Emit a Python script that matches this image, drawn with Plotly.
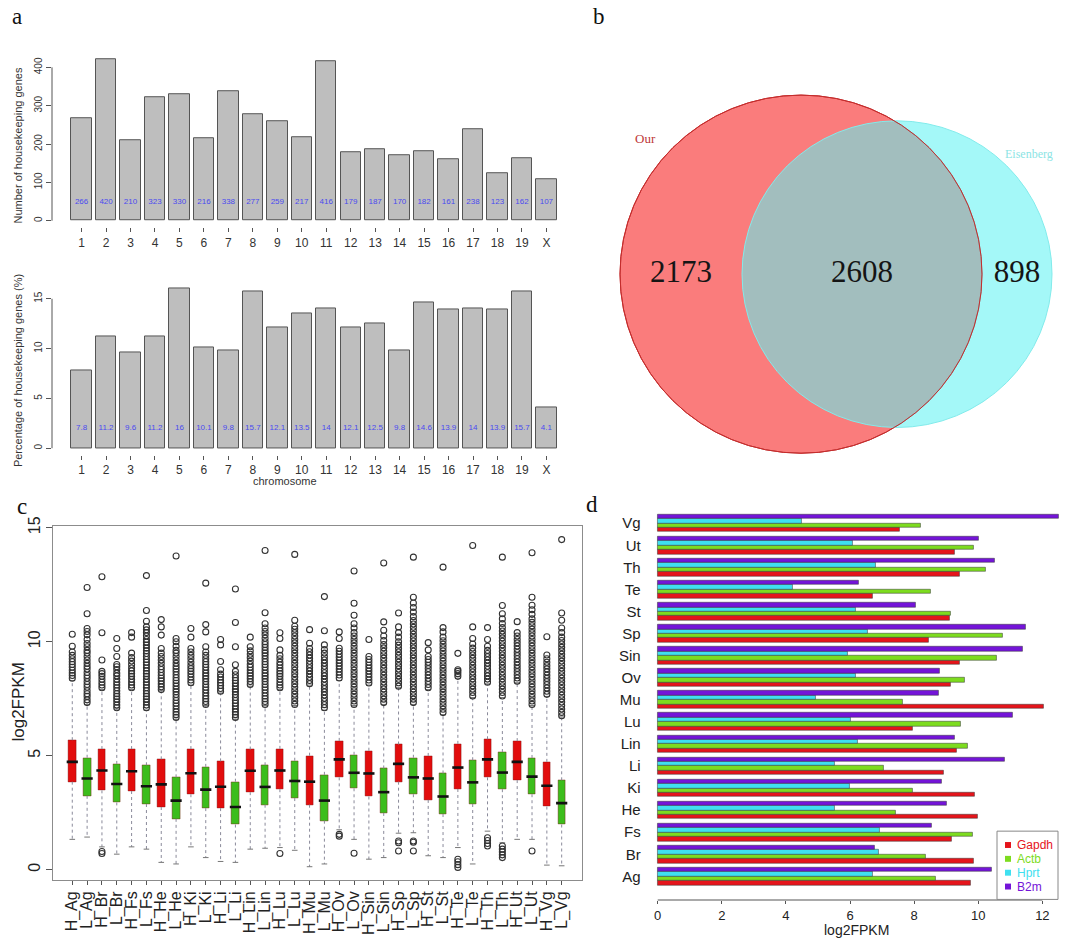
import math
import plotly.graph_objects as go

W, H = 1068, 938
SANS = "Liberation Sans, Arial, sans-serif"
SERIF = "Liberation Serif, Times New Roman, serif"

# ---------------- data: panel a ----------------
chromosomes = ["1", "2", "3", "4", "5", "6", "7", "8", "9", "10",
               "11", "12", "13", "14", "15", "16", "17", "18", "19", "X"]
hk_counts = [266, 420, 210, 323, 330, 216, 338, 277, 259, 217,
             416, 179, 187, 170, 182, 161, 238, 123, 162, 107]
hk_percent = [7.8, 11.2, 9.6, 11.2, 16, 10.1, 9.8, 15.7, 12.1, 13.5,
              14, 12.1, 12.5, 9.8, 14.6, 13.9, 14, 13.9, 15.7, 4.1]

# ---------------- data: panel b ----------------
venn_sets = ["Our", "Eisenberg"]
venn_only_our = 2173
venn_both = 2608
venn_only_eis = 898

# ---------------- data: panel c ----------------
box_names = ["H_Ag", "L_Ag", "H_Br", "L_Br", "H_Fs", "L_Fs", "H_He", "L_He",
             "H_Ki", "L_Ki", "H_Li", "L_Li", "H_Lin", "L_Lin", "H_Lu", "L_Lu",
             "H_Mu", "L_Mu", "H_Ov", "L_Ov", "H_Sin", "L_Sin", "H_Sp", "L_Sp",
             "H_St", "L_St", "H_Te", "L_Te", "H_Th", "L_Th", "H_Ut", "L_Ut",
             "H_Vg", "L_Vg"]
box_q1 = [3.86, 3.24, 3.48, 2.95, 3.45, 2.88, 2.75, 2.23, 3.31, 2.70, 2.70, 1.98,
          3.40, 2.85, 3.53, 3.14, 2.85, 2.15, 4.05, 3.57, 3.21, 2.49, 3.86, 3.31,
          3.06, 2.44, 3.54, 2.88, 4.05, 3.53, 3.93, 3.31, 2.77, 1.98]
box_median = [4.73, 4.00, 4.35, 3.76, 4.32, 3.66, 3.74, 3.03, 4.23, 3.51, 3.64, 2.75,
              4.34, 3.63, 4.35, 3.89, 3.86, 3.03, 4.84, 4.25, 4.22, 3.40, 4.64, 4.05,
              4.00, 3.21, 4.48, 3.83, 4.84, 4.26, 4.73, 4.08, 3.68, 2.92]
box_q3 = [5.68, 4.91, 5.29, 4.64, 5.29, 4.58, 4.84, 4.05, 5.29, 4.51, 4.75, 3.86,
          5.27, 4.58, 5.30, 4.78, 5.00, 4.16, 5.65, 5.04, 5.22, 4.44, 5.49, 4.91,
          4.99, 4.22, 5.52, 4.80, 5.72, 5.16, 5.64, 4.90, 4.73, 3.92]
box_low = [1.33, 1.43, 1.00, 0.68, 1.00, 0.90, 0.32, 0.25, 1.00, 0.53, 0.36, 0.32,
           0.90, 0.94, 0.97, 0.85, 0.13, 0.25, 1.75, 1.33, 0.46, 0.53, 1.60, 1.62,
           0.61, 0.53, 0.97, 0.25, 1.69, 1.18, 1.33, 1.33, 0.20, 0.17]
box_high = [8.3, 7.25, 7.9, 7.05, 7.9, 7.0, 7.85, 6.6, 8.1, 7.2, 7.75, 6.6,
            8.05, 7.2, 7.9, 7.2, 8.1, 7.0, 8.3, 7.2, 8.1, 7.25, 8.0, 7.25,
            7.9, 6.8, 8.4, 7.55, 8.15, 7.55, 8.2, 7.2, 7.6, 6.7]
box_outliers = [
    [8.4, 8.52, 8.63, 8.75, 8.88, 9.0, 9.12, 9.25, 9.4, 9.55, 9.8, 10.33],
    [7.33, 7.45, 7.6, 7.72, 7.85, 8.0, 8.12, 8.25, 8.4, 8.52, 8.65, 8.8, 8.92, 9.05, 9.2, 9.35,
     9.5, 9.62, 9.78, 9.92, 10.1, 10.3, 10.45, 10.58, 11.23, 12.38],
    [0.71, 0.8, 7.98, 8.1, 8.22, 8.35, 8.48, 8.6, 8.7, 9.2, 10.39, 12.85],
    [7.1, 7.22, 7.35, 7.48, 7.6, 7.72, 7.85, 7.98, 8.1, 8.22, 8.35, 8.5, 8.62, 8.78, 8.9, 9.0,
     9.35, 9.7, 10.14],
    [7.98, 8.1, 8.22, 8.35, 8.48, 8.6, 8.72, 8.85, 9.0, 9.15, 9.3, 9.5, 10.2, 10.4],
    [7.1, 7.22, 7.35, 7.48, 7.6, 7.72, 7.85, 7.98, 8.1, 8.22, 8.35, 8.48, 8.6, 8.72, 8.85, 8.98,
     9.1, 9.22, 9.35, 9.48, 9.6, 9.72, 9.85, 9.98, 10.1, 10.25, 10.4, 10.52, 10.65, 10.9, 11.37, 12.9],
    [7.9, 8.02, 8.15, 8.28, 8.4, 8.52, 8.65, 8.78, 8.9, 9.05, 9.2, 9.35, 9.5, 9.7, 10.29, 10.65, 10.97],
    [6.68, 6.8, 6.92, 7.05, 7.18, 7.3, 7.42, 7.55, 7.68, 7.8, 7.92, 8.05, 8.18, 8.3, 8.42, 8.55,
     8.68, 8.8, 8.92, 9.05, 9.2, 9.35, 9.5, 9.62, 9.8, 10.0, 10.14, 13.76],
    [8.2, 8.32, 8.45, 8.58, 8.7, 8.82, 8.95, 9.1, 9.25, 9.4, 9.55, 9.7, 10.2, 10.58],
    [7.25, 7.38, 7.5, 7.62, 7.75, 7.88, 8.0, 8.12, 8.25, 8.38, 8.5, 8.62, 8.75, 8.88, 9.0, 9.12,
     9.25, 9.4, 9.55, 9.78, 10.43, 10.75, 12.57],
    [7.83, 7.95, 8.08, 8.2, 8.32, 8.45, 8.58, 8.77, 9.13, 9.86, 10.1],
    [6.68, 6.8, 6.92, 7.05, 7.18, 7.3, 7.42, 7.55, 7.68, 7.8, 7.92, 8.05, 8.18, 8.3, 8.42, 8.55,
     8.7, 8.99, 9.78, 10.84, 12.31],
    [8.12, 8.25, 8.38, 8.5, 8.62, 8.75, 8.88, 9.0, 9.15, 9.3, 9.45, 9.6, 9.78, 10.2],
    [7.25, 7.38, 7.5, 7.62, 7.75, 7.88, 8.0, 8.12, 8.25, 8.38, 8.5, 8.62, 8.75, 8.88, 9.0, 9.12,
     9.25, 9.38, 9.5, 9.62, 9.75, 9.88, 10.0, 10.15, 10.3, 10.45, 10.6, 10.79, 11.27, 14.0],
    [0.71, 7.98, 8.1, 8.22, 8.35, 8.48, 8.6, 8.72, 8.85, 8.98, 9.1, 9.25, 9.4, 9.64, 10.14, 10.39],
    [7.25, 7.4, 7.55, 7.7, 7.85, 8.0, 8.15, 8.3, 8.45, 8.6, 8.75, 8.9, 9.05, 9.2, 9.35, 9.5,
     9.65, 9.8, 9.95, 10.1, 10.25, 10.4, 10.55, 10.68, 10.94, 13.83],
    [8.16, 8.3, 8.44, 8.58, 8.72, 8.86, 9.0, 9.14, 9.28, 9.42, 9.56, 9.7, 9.93, 10.53],
    [7.1, 7.24, 7.38, 7.52, 7.66, 7.8, 7.94, 8.08, 8.22, 8.36, 8.5, 8.64, 8.78, 8.92, 9.06, 9.2,
     9.34, 9.5, 9.66, 9.86, 10.48, 11.98],
    [1.47, 1.55, 8.41, 8.54, 8.67, 8.8, 8.93, 9.06, 9.19, 9.32, 9.45, 9.58, 9.71, 10.14, 10.43],
    [0.72, 7.25, 7.4, 7.55, 7.7, 7.85, 8.0, 8.15, 8.3, 8.45, 8.6, 8.75, 8.9, 9.05, 9.2, 9.35, 9.5,
     9.65, 9.8, 9.95, 10.1, 10.25, 10.4, 10.6, 10.79, 11.16, 11.69, 13.1],
    [8.19, 8.32, 8.45, 8.58, 8.71, 8.84, 8.97, 9.1, 9.22, 9.35, 10.1],
    [7.33, 7.48, 7.63, 7.78, 7.93, 8.08, 8.23, 8.38, 8.53, 8.68, 8.83, 8.98, 9.13, 9.28, 9.43,
     9.58, 9.73, 9.88, 10.05, 10.25, 10.5, 10.87, 13.45],
    [0.82, 1.18, 1.26, 8.05, 8.2, 8.35, 8.5, 8.65, 8.8, 8.95, 9.1, 9.25, 9.4, 9.55, 9.7, 9.85,
     10.0, 10.2, 10.4, 10.65, 11.26],
    [0.82, 1.2, 1.26, 7.33, 7.48, 7.63, 7.78, 7.93, 8.08, 8.23, 8.38, 8.53, 8.68, 8.83, 8.98,
     9.13, 9.28, 9.43, 9.58, 9.73, 9.88, 10.03, 10.18, 10.33, 10.48, 10.63, 10.78, 10.93, 11.1,
     11.3, 11.5, 11.7, 11.95, 13.71],
    [7.98, 8.12, 8.26, 8.4, 8.54, 8.68, 8.82, 8.96, 9.1, 9.22, 9.35, 9.64, 9.96],
    [6.89, 7.04, 7.19, 7.34, 7.49, 7.64, 7.79, 7.94, 8.09, 8.24, 8.39, 8.54, 8.69, 8.84, 8.99,
     9.14, 9.29, 9.44, 9.59, 9.74, 9.89, 10.04, 10.2, 10.43, 10.62, 13.27],
    [0.1, 0.22, 0.35, 0.46, 8.48, 8.6, 8.7, 8.77, 9.49],
    [7.62, 7.77, 7.92, 8.07, 8.22, 8.37, 8.52, 8.67, 8.82, 8.97, 9.12, 9.27, 9.42, 9.57, 9.72,
     9.9, 10.14, 10.65, 14.22],
    [1.04, 1.15, 1.28, 1.4, 8.22, 8.36, 8.5, 8.64, 8.78, 8.92, 9.06, 9.2, 9.34, 9.48, 9.62, 9.8,
     10.1, 10.62],
    [0.53, 0.65, 0.78, 0.9, 1.04, 7.62, 7.77, 7.92, 8.07, 8.22, 8.37, 8.52, 8.67, 8.82, 8.97,
     9.12, 9.27, 9.42, 9.57, 9.72, 9.87, 10.02, 10.17, 10.32, 10.47, 10.62, 10.8, 11.0, 11.23,
     11.59, 13.71],
    [8.27, 8.41, 8.55, 8.69, 8.83, 8.97, 9.11, 9.25, 9.39, 9.53, 9.67, 9.81, 9.95, 10.1, 10.25,
     10.4, 10.88],
    [0.82, 7.25, 7.4, 7.55, 7.7, 7.85, 8.0, 8.15, 8.3, 8.45, 8.6, 8.75, 8.9, 9.05, 9.2, 9.35,
     9.5, 9.65, 9.8, 9.95, 10.1, 10.25, 10.4, 10.55, 10.7, 10.85, 11.0, 11.2, 11.4, 11.6, 11.95,
     13.9],
    [7.69, 7.83, 7.97, 8.11, 8.25, 8.39, 8.53, 8.67, 8.81, 8.95, 9.1, 9.25, 9.42, 10.22],
    [6.75, 6.9, 7.05, 7.2, 7.35, 7.5, 7.65, 7.8, 7.95, 8.1, 8.25, 8.4, 8.55, 8.7, 8.85, 9.0,
     9.15, 9.3, 9.45, 9.6, 9.75, 9.9, 10.05, 10.2, 10.4, 10.6, 10.94, 11.26, 14.48],
]

# ---------------- data: panel d ----------------
tissues = ["Ag", "Br", "Fs", "He", "Ki", "Li", "Lin", "Lu", "Mu",
           "Ov", "Sin", "Sp", "St", "Te", "Th", "Ut", "Vg"]
genes = ["Gapdh", "Actb", "Hprt", "B2m"]
gapdh = [9.77, 9.87, 9.16, 9.98, 9.90, 8.91, 9.34, 7.95, 12.03,
         9.13, 9.42, 8.44, 9.12, 6.70, 9.43, 9.28, 7.56]
actb = [8.66, 8.37, 9.82, 7.43, 7.94, 7.04, 9.67, 9.46, 7.65,
        9.57, 10.59, 10.76, 9.15, 8.52, 10.23, 9.85, 8.21]
hprt = [6.71, 6.88, 6.94, 5.53, 6.00, 5.53, 6.24, 6.03, 4.94,
        6.18, 5.93, 6.54, 6.18, 4.20, 6.80, 6.07, 4.49]
b2m = [10.42, 6.78, 8.55, 9.00, 8.87, 10.81, 9.25, 11.07, 8.77,
       8.81, 11.38, 11.49, 8.05, 6.27, 10.50, 10.01, 12.50]
gene_values = [gapdh, actb, hprt, b2m]
gene_colors = ["#e5141b", "#7ddc1f", "#3fe0f0", "#7414d8"]


# ---------------- helpers ----------------
def dx(p0, p1):
    return [p0 / W, p1 / W]


def dy(top, bottom):
    return [1 - bottom / H, 1 - top / H]


def px(x):
    return x / W


def py(y):
    return 1 - y / H


fig = go.Figure()

# ---------------- panel a ----------------
bar_x = [0.7 + 1.2 * i for i in range(len(chromosomes))]
for vals, xa, ya, ylab in [(hk_counts, "x", "y", 50), (hk_percent, "x2", "y2", 2)]:
    fig.add_trace(go.Bar(x=bar_x, y=vals, width=1.0, xaxis=xa, yaxis=ya,
                         marker=dict(color="#bebebe", line=dict(color="#555555", width=1)),
                         showlegend=False, hoverinfo="skip"))
    fig.add_trace(go.Scatter(x=bar_x, y=[ylab] * len(vals), text=[str(v) for v in vals],
                             mode="text", xaxis=xa, yaxis=ya,
                             textfont=dict(family=SANS, size=8, color="#4a4af0"),
                             showlegend=False, hoverinfo="skip"))

# ---------------- panel b (Venn) ----------------
def lens_area(r1, r2, d):
    if d >= r1 + r2:
        return 0.0
    if d <= abs(r1 - r2):
        return math.pi * min(r1, r2) ** 2
    a1 = r1 * r1 * math.acos((d * d + r1 * r1 - r2 * r2) / (2 * d * r1))
    a2 = r2 * r2 * math.acos((d * d + r2 * r2 - r1 * r1) / (2 * d * r2))
    k = 0.5 * math.sqrt((-d + r1 + r2) * (d + r1 - r2) * (d - r1 + r2) * (d + r1 + r2))
    return a1 + a2 - k


n_our = venn_only_our + venn_both
n_eis = venn_only_eis + venn_both
R_OUR = 181.0
r_our = R_OUR
r_eis = R_OUR * math.sqrt(n_eis / n_our)
target = venn_both / n_our * math.pi * r_our ** 2
lo_d, hi_d = abs(r_our - r_eis) + 1e-6, r_our + r_eis
for _ in range(80):
    mid = 0.5 * (lo_d + hi_d)
    if lens_area(r_our, r_eis, mid) > target:
        lo_d = mid
    else:
        hi_d = mid
dist = 0.5 * (lo_d + hi_d)
cx_our, cy = 801.0, 267.0
cx_eis = cx_our + dist

venn_shapes = [
    dict(type="circle", xref="x3", yref="y3", x0=cx_our - r_our, x1=cx_our + r_our,
         y0=cy - r_our, y1=cy + r_our, fillcolor="rgb(250,124,124)",
         line=dict(color="rgb(196,45,45)", width=1), layer="below"),
    dict(type="circle", xref="x3", yref="y3", x0=cx_eis - r_eis, x1=cx_eis + r_eis,
         y0=cy - r_eis, y1=cy + r_eis, fillcolor="rgba(92,242,242,0.56)",
         line=dict(color="rgb(130,235,235)", width=1), layer="below"),
    dict(type="circle", xref="x3", yref="y3", x0=cx_our - r_our, x1=cx_our + r_our,
         y0=cy - r_our, y1=cy + r_our, fillcolor="rgba(0,0,0,0)",
         line=dict(color="rgb(196,45,45)", width=1), layer="below"),
]
venn_x = [((cx_our - r_our) + (cx_eis - r_eis)) / 2,
          ((cx_eis - r_eis) + (cx_our + r_our)) / 2,
          ((cx_our + r_our) + (cx_eis + r_eis)) / 2]
fig.add_trace(go.Scatter(x=venn_x, y=[cy] * 3,
                         text=[str(venn_only_our), str(venn_both), str(venn_only_eis)],
                         mode="text", xaxis="x3", yaxis="y3",
                         textfont=dict(family=SERIF, size=31, color="#151515"),
                         showlegend=False, hoverinfo="skip"))

# ---------------- panel c (boxplots) ----------------
box_pos = list(range(1, len(box_names) + 1))
box_colors = ["#e20d0d" if n.startswith("H_") else "#3cbd1c" for n in box_names]

wx, wy = [], []
for p, q1, q3, lo, hi in zip(box_pos, box_q1, box_q3, box_low, box_high):
    wx += [p, p, None, p, p, None]
    wy += [q1, lo, None, q3, hi, None]
fig.add_trace(go.Scatter(x=wx, y=wy, mode="lines", xaxis="x4", yaxis="y4",
                         line=dict(color="#8a8a9a", width=1, dash="dot"),
                         showlegend=False, hoverinfo="skip"))
fig.add_trace(go.Scatter(x=box_pos + box_pos, y=box_low + box_high, mode="markers",
                         xaxis="x4", yaxis="y4",
                         marker=dict(symbol="line-ew", size=4, line=dict(color="#777", width=1)),
                         showlegend=False, hoverinfo="skip"))
fig.add_trace(go.Bar(x=box_pos, y=[b - a for a, b in zip(box_q1, box_q3)], base=box_q1,
                     width=0.5, xaxis="x4", yaxis="y4",
                     marker=dict(color=box_colors, line=dict(color="#7a1010", width=0.4)),
                     showlegend=False, hoverinfo="skip"))
fig.add_trace(go.Scatter(x=box_pos, y=box_median, mode="markers", xaxis="x4", yaxis="y4",
                         marker=dict(symbol="line-ew", size=8, line=dict(color="#111", width=2.6)),
                         showlegend=False, hoverinfo="skip"))
ox, oy = [], []
for p, outs in zip(box_pos, box_outliers):
    ox += [p] * len(outs)
    oy += outs
fig.add_trace(go.Scatter(x=ox, y=oy, mode="markers", xaxis="x4", yaxis="y4",
                         marker=dict(symbol="circle-open", size=6, color="#333333",
                                     line=dict(width=1.1)),
                         showlegend=False, hoverinfo="skip"))

# ---------------- panel d (horizontal bars) ----------------
group_centers = [5 * i + 3 for i in range(len(tissues))]
for j, (gname, vals, col) in enumerate(zip(genes, gene_values, gene_colors)):
    fig.add_trace(go.Bar(y=[5 * i + 1.5 + j for i in range(len(tissues))], x=vals,
                         orientation="h", width=1.0, xaxis="x5", yaxis="y5",
                         marker=dict(color=col, line=dict(color="#333", width=0.5)),
                         name=gname, showlegend=False, hoverinfo="skip"))

# ---------------- layout ----------------
tick_common = dict(showgrid=False, zeroline=False, ticks="outside", tickcolor="#555")

layout = dict(
    width=W, height=H, autosize=False,
    margin=dict(l=0, r=0, t=0, b=0),
    paper_bgcolor="white", plot_bgcolor="rgba(0,0,0,0)",
    barmode="overlay", bargap=0,
    font=dict(family=SANS, color="#222"),
    xaxis=dict(domain=dx(52, 576), range=[-0.752, 24.952], anchor="y",
               tickvals=bar_x, ticktext=chromosomes, ticklen=4, showline=False,
               tickfont=dict(size=12, color="#333"), **tick_common),
    yaxis=dict(domain=dy(43.7, 219.5), range=[-16.8, 436.8], anchor="x",
               tickvals=[0, 100, 200, 300, 400], tickangle=-90, ticklen=5, showline=False,
               tickfont=dict(size=10, color="#333"), **tick_common),
    xaxis2=dict(domain=dx(52, 576), range=[-0.752, 24.952], anchor="y2",
                tickvals=bar_x, ticktext=chromosomes, ticklen=4, showline=False,
                tickfont=dict(size=12, color="#333"), **tick_common),
    yaxis2=dict(domain=dy(275.4, 449.4), range=[-0.64, 16.64], anchor="x2",
                tickvals=[0, 5, 10, 15], tickangle=-90, ticklen=5, showline=False,
                tickfont=dict(size=10, color="#333"), **tick_common),
    xaxis3=dict(domain=dx(590, 1068), range=[590, 1068], anchor="y3", visible=False,
                fixedrange=True),
    yaxis3=dict(domain=dy(60, 480), range=[480, 60], anchor="x3", visible=False,
                fixedrange=True),
    xaxis4=dict(domain=dx(53.3, 581.7), range=[-0.28, 35.35], anchor="y4",
                tickvals=box_pos, ticktext=box_names, tickangle=-90, ticklen=4,
                showline=True, mirror=True, linecolor="#8c8c8c",
                tickfont=dict(size=16, color="#222"), **tick_common),
    yaxis4=dict(domain=dy(521.7, 879.3), range=[-0.45, 15.07], anchor="x4",
                tickvals=[0, 5, 10, 15], tickangle=-90, ticklen=6,
                showline=True, mirror=True, linecolor="#8c8c8c",
                tickfont=dict(size=16, color="#222"), **tick_common),
    xaxis5=dict(domain=dx(641.7, 1068), range=[-0.5, 12.8], anchor="y5",
                tickvals=[0, 2, 4, 6, 8, 10, 12], ticklen=3, showline=False,
                tickfont=dict(size=13, color="#222"), **tick_common),
    yaxis5=dict(domain=dy(494.8, 899.6), range=[-2.36, 88.36], anchor="x5",
                tickvals=group_centers, ticktext=tissues, ticks="", showline=False,
                showgrid=False, zeroline=False, tickfont=dict(size=15, color="#222")),
    showlegend=False,
)

shapes = list(venn_shapes)
shapes += [
    dict(type="line", xref="x domain", yref="y", x0=0, x1=0, y0=0, y1=400,
         line=dict(color="#555", width=1)),
    dict(type="line", xref="x2 domain", yref="y2", x0=0, x1=0, y0=0, y1=15,
         line=dict(color="#555", width=1)),
    dict(type="line", xref="x5", yref="y5 domain", x0=0, x1=12, y0=0, y1=0,
         line=dict(color="#555", width=1)),
    # legend frame (panel d)
    dict(type="rect", xref="paper", yref="paper", x0=px(997), x1=px(1058),
         y0=py(899), y1=py(830), fillcolor="white", line=dict(color="#888", width=1)),
]
legend_rows = [844, 858, 872, 886]
for row, col in zip(legend_rows, gene_colors):
    shapes.append(dict(type="rect", xref="paper", yref="paper",
                       x0=px(1005), x1=px(1011), y0=py(row + 3), y1=py(row - 3),
                       fillcolor=col, line=dict(width=0)))
layout["shapes"] = shapes


def ann(x, y, text, size, family=SANS, color="#222", angle=0, xanchor="center"):
    return dict(x=x / W, y=1 - y / H, xref="paper", yref="paper", text=text,
                showarrow=False, xanchor=xanchor, yanchor="middle", textangle=angle,
                font=dict(size=size, family=family, color=color))


annotations = [
    ann(17, 7, "a", 23, SERIF, "#111"),
    ann(599, 7, "b", 23, SERIF, "#111"),
    ann(22, 502, "c", 23, SERIF, "#111"),
    ann(592, 500, "d", 23, SERIF, "#111"),
    ann(18, 137, "Number of housekeeping genes", 11, SANS, "#333", -90),
    ann(18, 365, "Percentage of housekeeping genes (%)", 11, SANS, "#333", -90),
    ann(285, 476, "chromosome", 11, SANS, "#333"),
    ann(19, 700, "log2FPKM", 17, SANS, "#222", -90),
    ann(856, 930, "log2FPKM", 14, SANS, "#222"),
    ann(645, 130, venn_sets[0], 13, SERIF, "rgb(190,55,55)"),
    ann(1003, 146, venn_sets[1], 12, SERIF, "rgb(140,228,228)", xanchor="left"),
]
for row, gname, col in zip(legend_rows, genes, gene_colors):
    annotations.append(ann(1015, row, gname, 12, SANS, col, xanchor="left"))
layout["annotations"] = annotations

fig.update_layout(**layout)
fig.write_html("out.html", config={"displayModeBar": False},
               post_script="document.body.style.margin='0px';")
